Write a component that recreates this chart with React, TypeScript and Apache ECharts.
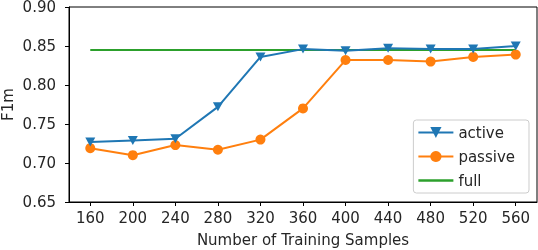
import React, { useEffect, useRef } from "react";
import * as echarts from "echarts";

const samples = [160, 200, 240, 280, 320, 360, 400, 440, 480, 520, 560];
const activeF1 = [0.727, 0.729, 0.731, 0.772, 0.836, 0.846, 0.844, 0.847, 0.846, 0.846, 0.850];
const passiveF1 = [0.719, 0.710, 0.723, 0.717, 0.730, 0.770, 0.832, 0.832, 0.830, 0.836, 0.839];
const fullF1 = [0.845, 0.845, 0.845, 0.845, 0.845, 0.845, 0.845, 0.845, 0.845, 0.845, 0.845];
const yTicks = [0.65, 0.7, 0.75, 0.8, 0.85, 0.9];

const FONT = "DejaVu Sans";
const TXT = "#262626";

export default function App() {
  const ref = useRef<HTMLDivElement>(null);
  useEffect(() => {
    if (!ref.current) return;
    const chart = echarts.init(ref.current, undefined, { renderer: "svg" });
    const pair = (ys: number[]) => samples.map((x, i) => [x, ys[i]]);
    chart.setOption({
      animation: false,
      textStyle: { fontFamily: FONT },
      grid: {
        left: 69,
        right: 1,
        top: 7,
        bottom: 48,
        containLabel: false,
        outerBoundsMode: "none",
        show: true,
        borderColor: "#000",
        borderWidth: 1,
        backgroundColor: "transparent",
      },
      legend: {
        right: 9,
        bottom: 57,
        orient: "vertical",
        itemWidth: 35,
        itemHeight: 14,
        itemGap: 9,
        padding: [5, 14, 5, 4],
        borderColor: "#ccc",
        borderWidth: 1,
        borderRadius: 3,
        backgroundColor: "rgba(255,255,255,0.8)",
        textStyle: { fontFamily: FONT, fontSize: 15, color: TXT },
        data: [
          { name: "active" },
          { name: "passive" },
          { name: "full", icon: "path://M0,0 L34,0 L34,2.2 L0,2.2 Z", itemStyle: { color: "#2ca02c" } },
        ],
      },
      xAxis: {
        type: "value",
        min: 140,
        max: 580,
        name: "Number of Training Samples",
        nameLocation: "middle",
        nameGap: 30,
        nameMoveOverlap: false,
        nameTextStyle: { fontFamily: FONT, fontSize: 15, color: TXT },
        axisLine: { show: true, lineStyle: { color: "#000", width: 1 } },
        axisTick: { show: true, inside: false, length: 4, lineStyle: { color: "#000" }, customValues: samples },
        axisLabel: {
          fontFamily: FONT,
          fontSize: 15,
          color: TXT,
          margin: 8,
          customValues: samples,
        },
        splitLine: { show: false },
      },
      yAxis: {
        type: "value",
        min: 0.65,
        max: 0.9,
        name: "F1m",
        nameLocation: "middle",
        nameGap: 54,
        nameRotate: 90,
        nameMoveOverlap: false,
        nameTextStyle: { fontFamily: FONT, fontSize: 15, color: TXT },
        axisLine: { show: true, lineStyle: { color: "#000", width: 1 } },
        axisTick: { show: true, inside: false, length: 4, lineStyle: { color: "#000" }, customValues: yTicks },
        axisLabel: {
          fontFamily: FONT,
          fontSize: 15,
          lineHeight: 13,
          color: TXT,
          margin: 13,
          customValues: yTicks,
          formatter: (v: number) => v.toFixed(2),
        },
        splitLine: { show: false },
      },
      series: [
        {
          name: "active",
          type: "line",
          data: pair(activeF1),
          symbol: "path://M0,0 L10,0 L5,9 Z",
          symbolSize: [10, 9],
          color: "#1f77b4",
          lineStyle: { width: 2, color: "#1f77b4" },
          itemStyle: { color: "#1f77b4" },
          z: 3,
        },
        {
          name: "passive",
          type: "line",
          data: pair(passiveF1),
          symbol: "circle",
          symbolSize: 10,
          color: "#ff7f0e",
          lineStyle: { width: 2, color: "#ff7f0e" },
          itemStyle: { color: "#ff7f0e" },
          z: 2,
        },
        {
          name: "full",
          type: "line",
          data: pair(fullF1),
          symbol: "none",
          showSymbol: false,
          color: "#2ca02c",
          lineStyle: { width: 2, color: "#2ca02c" },
          z: 1,
        },
      ],
    });
    return () => chart.dispose();
  }, []);
  return (
    <div
      ref={ref}
      style={{ position: "fixed", left: 0, top: 0, width: 538, height: 250 }}
    />
  );
}
